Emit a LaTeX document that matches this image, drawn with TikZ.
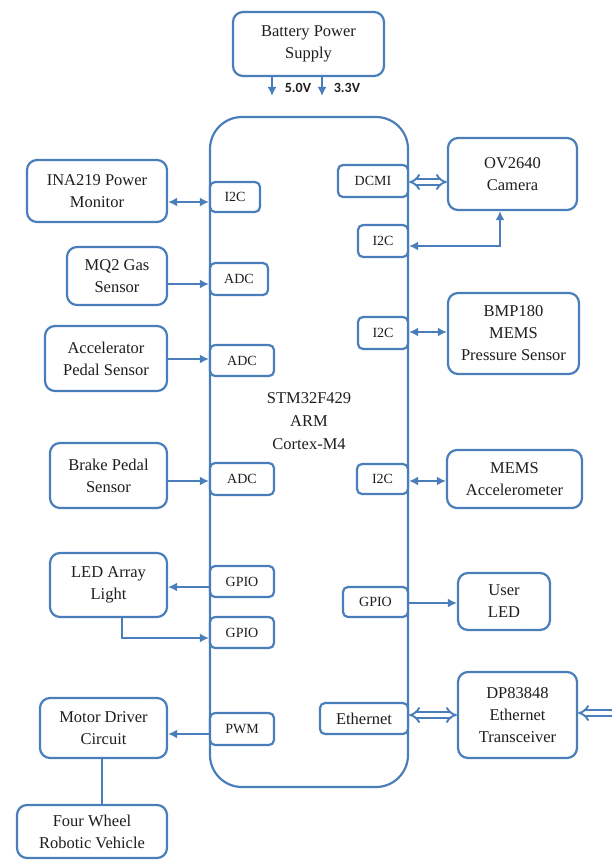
\documentclass[tikz,border=0pt]{standalone}
\usepackage{fontspec}
\setmainfont{Liberation Serif}
\newfontfamily\lblfont{Carlito}
\usetikzlibrary{arrows.meta}
\definecolor{bl}{RGB}{74,126,187}
\definecolor{tx}{RGB}{30,30,30}
\begin{document}
\begin{tikzpicture}[x=1pt,y=-1pt,
  blk/.style={draw=bl,line width=2.2pt,rounded corners=10pt,fill=white,align=center,inner sep=0pt,text=tx,
     font=\fontsize{16.5}{22}\selectfont},
  port/.style={draw=bl,line width=2.2pt,rounded corners=5pt,fill=white,inner sep=0pt,text=tx,
     font=\fontsize{14}{17}\selectfont},
  conn/.style={draw=bl,line width=2.2pt},
  sa/.style={conn,-{Latex[length=9pt,width=9pt]}},
  da/.style={conn,{Latex[length=9pt,width=9pt]}-{Latex[length=9pt,width=9pt]}},
  dbl/.style={draw=bl,line width=1.9pt,double=white,double distance=3.4pt,{Implies}-{Implies}},
  dbll/.style={draw=bl,line width=1.9pt,double=white,double distance=3.4pt,-{Implies}},
]
\useasboundingbox (0,0) rectangle (611,861);
% MCU
\node[draw=bl,line width=2.2pt,rounded corners=32pt,minimum width=198pt,minimum height=670pt,inner sep=0pt] (mcu) at (309,452) {};
\node[align=center,text=tx,font=\fontsize{16.5}{23}\selectfont] (mculbl) at (309,421) {STM32F429\\ARM\\Cortex-M4};
% battery
\node[blk,minimum width=151pt,minimum height=64pt] (batt) at (308.5,44) {Battery Power\\Supply};
\coordinate (v5) at (272,96);
\coordinate (v3) at (322,96);
\draw[sa] (batt.south -| v5) -- (v5);
\draw[sa] (batt.south -| v3) -- (v3);
\node[font=\lblfont\bfseries\fontsize{14}{16}\selectfont,text=tx,inner sep=0pt] (l5) at (298,88) {5.0V};
\node[font=\lblfont\bfseries\fontsize{14}{16}\selectfont,text=tx,inner sep=0pt] (l3) at (347,88) {3.3V};
% left blocks
\node[blk,minimum width=140pt,minimum height=62pt] (ina) at (97,191) {INA219 Power\\Monitor};
\node[blk,minimum width=100pt,minimum height=58pt] (mq2) at (117,276) {MQ2 Gas\\Sensor};
\node[blk,minimum width=122pt,minimum height=65pt] (acc) at (106,358.5) {Accelerator\\Pedal Sensor};
\node[blk,minimum width=117pt,minimum height=65pt] (brake) at (108.5,475.5) {Brake Pedal\\Sensor};
\node[blk,minimum width=117pt,minimum height=64pt] (led) at (108.5,585) {LED Array\\Light};
\node[blk,minimum width=127pt,minimum height=60pt] (motor) at (103.5,728) {Motor Driver\\Circuit};
\node[blk,minimum width=150pt,minimum height=53pt] (wheel) at (92,831.5) {Four Wheel\\Robotic Vehicle};
% right blocks
\node[blk,minimum width=129pt,minimum height=72pt] (cam) at (512.5,174) {OV2640\\Camera};
\node[blk,minimum width=131pt,minimum height=81pt] (bmp) at (513.5,333.5) {BMP180\\MEMS\\Pressure Sensor};
\node[blk,minimum width=135pt,minimum height=58pt] (mems) at (514.5,479) {MEMS\\Accelerometer};
\node[blk,minimum width=92pt,minimum height=57pt] (uled) at (504,601.5) {User\\LED};
\node[blk,minimum width=119pt,minimum height=86pt] (dp) at (517.5,715) {DP83848\\Ethernet\\Transceiver};
% ports left
\node[port,minimum width=50pt,minimum height=30pt] (pi2cl) at (235,197) {I2C};
\node[port,minimum width=58pt,minimum height=32pt] (padc1) at (239,279) {ADC};
\node[port,minimum width=64pt,minimum height=31pt] (padc2) at (242,360.5) {ADC};
\node[port,minimum width=64pt,minimum height=32pt] (padc3) at (242,479) {ADC};
\node[port,minimum width=64pt,minimum height=31pt] (pgpio1) at (242,581.5) {GPIO};
\node[port,minimum width=64pt,minimum height=31pt] (pgpio2) at (242,632.5) {GPIO};
\node[port,minimum width=64pt,minimum height=32pt] (ppwm) at (242,729) {PWM};
% ports right
\node[port,minimum width=70pt,minimum height=32pt] (pdcmi) at (373,181) {DCMI};
\node[port,minimum width=50pt,minimum height=32pt] (pi2cc) at (383,241) {I2C};
\node[port,minimum width=50pt,minimum height=32pt] (pi2cb) at (383,333) {I2C};
\node[port,minimum width=51pt,minimum height=30pt] (pi2cm) at (382.5,479) {I2C};
\node[port,minimum width=65pt,minimum height=30pt] (pgpior) at (375.5,602) {GPIO};
\node[port,minimum width=88pt,minimum height=31pt,font=\fontsize{16.5}{20}\selectfont] (peth) at (364,718.5) {Ethernet};
% connectors left
\draw[da] (ina.east |- 0,202) -- (pi2cl.west |- 0,202);
\draw[sa] (mq2.east |- 0,284) -- (padc1.west |- 0,284);
\draw[sa] (acc.east |- 0,359) -- (padc2.west |- 0,359);
\draw[sa] (brake.east |- 0,481) -- (padc3.west |- 0,481);
\draw[sa] (pgpio1.west |- 0,587) -- (led.east |- 0,587);
\draw[sa] (led.south -| 122,0) |- (pgpio2.west |- 0,638);
\draw[sa] (ppwm.west |- 0,734) -- (motor.east |- 0,734);
\draw[conn] (motor.south -| 102,0) -- (wheel.north -| 102,0);
% connectors right
\draw[dbl] (pdcmi.east |- 0,182) -- (cam.west |- 0,182);
\draw[da] (pi2cc.east |- 0,246) -| (cam.south -| 500,0);
\draw[da] (pi2cb.east |- 0,332) -- (bmp.west |- 0,332);
\draw[da] (pi2cm.east |- 0,481) -- (mems.west |- 0,481);
\draw[sa] (pgpior.east |- 0,603) -- (uled.west |- 0,603);
\draw[dbl] (peth.east |- 0,715) -- (dp.west |- 0,715);
\coordinate (edge) at (614,713);
\draw[dbll] (edge) -- (dp.east |- edge);
\end{tikzpicture}
\end{document}
